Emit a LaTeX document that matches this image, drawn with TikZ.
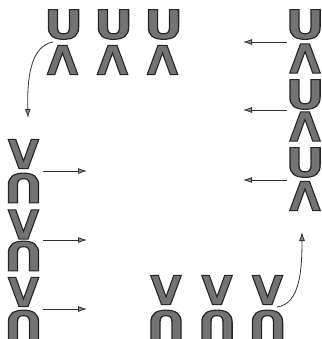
\documentclass[tikz,border=0pt]{standalone}
\usepackage{fontspec}
\setmainfont{DejaVu Sans}
\usetikzlibrary{arrows.meta}
\newcommand\outlined[1]{\special{pdf:literal direct 2 Tr 1.1 w 0.15 0.15 0.15 RG}#1\special{pdf:literal direct 0 Tr}}
\begin{document}
\begin{tikzpicture}[x=1pt,y=-1pt,
  sym/.style={inner sep=0pt,text=black!55,font=\fontsize{40}{40}\bfseries\selectfont},
  up/.style={sym},
  dn/.style={sym,rotate=180},
  wideU/.style={xscale=1.2},
  conn/.style={draw=black!80,line width=0.8pt,-{Latex[length=9pt,width=6pt,fill=black!45]}}]
\useasboundingbox (0,0) rectangle (321,339);
\clip (0,0) rectangle (321,339);
% top row
\node[up,wideU] (t1u) at (63.5,24.5) {\outlined{U}};
\node[up,wideU] (t2u) at (113.5,24.5) {\outlined{U}};
\node[up,wideU] (t3u) at (163.5,24.5) {\outlined{U}};
\node[dn] (t1a) at (62.5,60) {\outlined{V}};
\node[dn] (t2a) at (112.5,60) {\outlined{V}};
\node[dn] (t3a) at (162.5,60) {\outlined{V}};
% right column
\node[up,wideU] (r1u) at (305,24.5) {\outlined{U}};
\node[dn] (r1a) at (305,58.5) {\outlined{V}};
\node[up,wideU] (r2u) at (305,94.5) {\outlined{U}};
\node[dn] (r2a) at (305,126.5) {\outlined{V}};
\node[up,wideU] (r3u) at (305,162.5) {\outlined{U}};
\node[dn] (r3a) at (305,196) {\outlined{V}};
% left column
\node[up] (l1v) at (23.5,154) {\outlined{V}};
\node[dn,wideU] (l1n) at (23.5,188) {\outlined{U}};
\node[up] (l2v) at (23.5,224.5) {\outlined{V}};
\node[dn,wideU] (l2n) at (23.5,256) {\outlined{U}};
\node[up] (l3v) at (23.5,292) {\outlined{V}};
\node[dn,wideU] (l3n) at (23.5,325) {\outlined{U}};
% bottom row
\node[up] (b1v) at (166,290) {\outlined{V}};
\node[up] (b2v) at (217,290) {\outlined{V}};
\node[up] (b3v) at (267.5,290) {\outlined{V}};
\node[dn,wideU] (b1n) at (166,325) {\outlined{U}};
\node[dn,wideU] (b2n) at (217,325) {\outlined{U}};
\node[dn,wideU] (b3n) at (267.5,325) {\outlined{U}};
% coordinates for arrows
\coordinate (ra1s) at (287,42);  \coordinate (ra1e) at (243,42);
\coordinate (ra2s) at (287,110); \coordinate (ra2e) at (243,110);
\coordinate (ra3s) at (287,180); \coordinate (ra3e) at (243,180);
\coordinate (la1s) at (43,171);  \coordinate (la1e) at (87,171);
\coordinate (la2s) at (43,240);  \coordinate (la2e) at (87,240);
\coordinate (la3s) at (43,309);  \coordinate (la3e) at (87,309);
\coordinate (c1s) at (53,42); \coordinate (c1e) at (28,118);
\coordinate (c2s) at (277,307); \coordinate (c2e) at (302,232);
\draw[conn] (ra1s) -- (ra1e);
\draw[conn] (ra2s) -- (ra2e);
\draw[conn] (ra3s) -- (ra3e);
\draw[conn] (la1s) -- (la1e);
\draw[conn] (la2s) -- (la2e);
\draw[conn] (la3s) -- (la3e);
\draw[conn] (c1s) .. controls (30,46) and (27,80) .. (c1e);
\draw[conn] (c2s) .. controls (300,304) and (302,270) .. (c2e);
\end{tikzpicture}
\end{document}
